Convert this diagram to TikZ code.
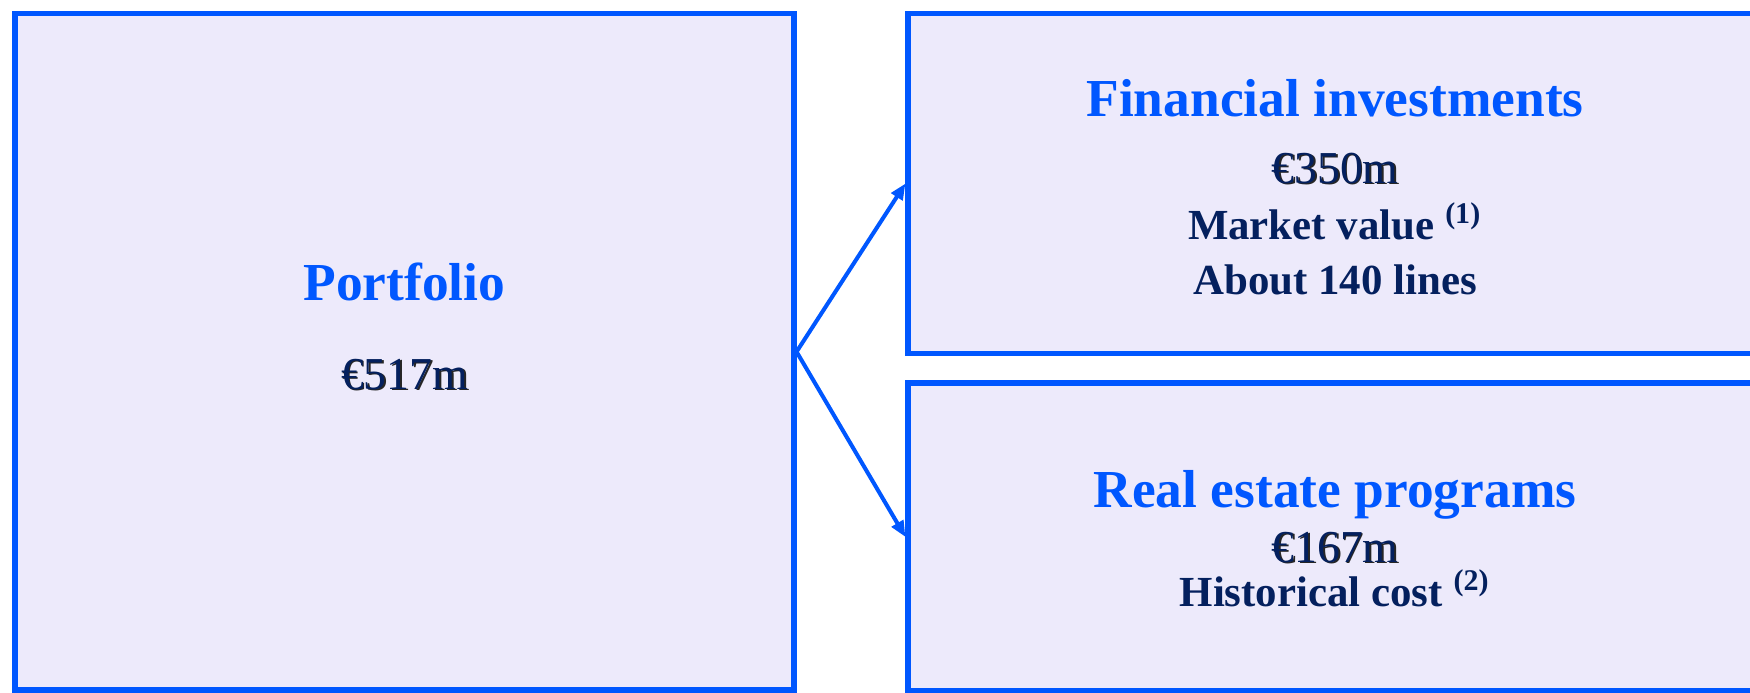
\documentclass[tikz,border=0pt]{standalone}
\usepackage{fontspec}
\setmainfont{Liberation Serif}
\usetikzlibrary{arrows.meta,positioning}
\usepackage{xcolor}
\definecolor{frame}{HTML}{0057FF}
\definecolor{pane}{HTML}{EDEAFB}
\definecolor{navy}{HTML}{04205E}
% money amounts carry a dark drop shadow
\newcommand{\shdw}[1]{\rlap{\hspace{0.5pt}\raisebox{-0.5pt}{\color{black!85}#1}}#1}

\begin{document}
\begin{tikzpicture}[
  >={Triangle[length=1.6mm,width=1.3mm]},
  panel/.style={draw=frame, fill=pane, line width=1.45pt, inner sep=0pt, minimum width=#1},
  head/.style={anchor=base, inner sep=0pt, text=frame, font=\fontsize{15.2}{18}\selectfont\bfseries},
  amount/.style={anchor=base, inner sep=0pt, text=navy, font=\fontsize{13}{16}\selectfont},
  note/.style={anchor=base, inner sep=0pt, text=navy, font=\fontsize{12.2}{15}\selectfont\bfseries},
  arr/.style={->, line width=1.15pt, color=frame},
]
\useasboundingbox (0,0) rectangle (17.5,6.92);

\node[panel=7.79cm, minimum height=6.765cm] (port) at (4.045, 3.4025) {};
\node[panel=8.54cm, minimum height=3.40cm] (fin) at (13.35, 5.085) {};
\node[panel=8.54cm, minimum height=3.08cm] (real) at (13.35, 1.55) {};

\node[head] (portT) at (4.045, 3.92) {Portfolio};
\node[amount] (portV) at (4.045, 3.03) {\shdw{€517m}};

\node[head] (finT) at (13.35, 5.76) {Financial investments};
\node[amount] (finV) at (13.35, 5.09) {\shdw{€350m}};
\node[note] (finN) at (13.35, 4.53) {Market value \textsuperscript{(1)}};
\node[note] (finL) at (13.35, 3.98) {About 140 lines};

\node[head] (realT) at (13.35, 1.85) {Real estate programs};
\node[amount] (realV) at (13.35, 1.30) {\shdw{€167m}};
\node[note] (realN) at (13.35, 0.86) {Historical cost \textsuperscript{(2)}};

\draw[arr] (port.east) -- (fin.west);
\draw[arr] (port.east) -- (real.west);

\end{tikzpicture}
\end{document}
